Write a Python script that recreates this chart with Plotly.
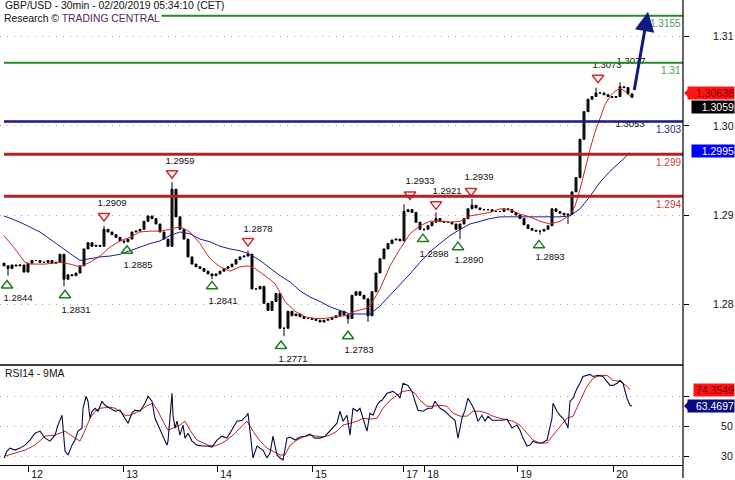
import plotly.graph_objects as go

# ---------------- data (x = quarter-hour slots from chart start) ----------------
bar_x = list(range(4, 636, 4))
closes = [
    1.2843, 1.2840, 1.2844, 1.2843, 1.2844, 1.2836, 1.2846, 1.2849, 1.2849, 1.2847,
    1.2847, 1.2849, 1.2846, 1.2847, 1.2856, 1.2828, 1.2833, 1.2832, 1.2835, 1.2843,
    1.2862, 1.2869, 1.2865, 1.2866, 1.2865, 1.2884, 1.2881, 1.2878, 1.2875, 1.2871,
    1.2870, 1.2873, 1.2881, 1.2882, 1.2884, 1.2893, 1.2899, 1.2896, 1.2890, 1.2881,
    1.2873, 1.2865, 1.2929, 1.2898, 1.2884, 1.2873, 1.2853, 1.2845, 1.2842, 1.2840,
    1.2837, 1.2834, 1.2832, 1.2834, 1.2837, 1.2840, 1.2842, 1.2845, 1.2850, 1.2853,
    1.2854, 1.2856, 1.2817, 1.2817, 1.2820, 1.2801, 1.2793, 1.2803, 1.2812, 1.2773,
    1.2773, 1.2792, 1.2787, 1.2789, 1.2786, 1.2784, 1.2784, 1.2783, 1.2782, 1.2780,
    1.2782, 1.2783, 1.2785, 1.2787, 1.2792, 1.2788, 1.2784, 1.2810, 1.2814, 1.2810,
    1.2806, 1.2787, 1.2814, 1.2835, 1.2851, 1.2862, 1.2868, 1.2872, 1.2873, 1.2871,
    1.2904, 1.2906, 1.2903, 1.2892, 1.2884, 1.2884, 1.2888, 1.2892, 1.2896, 1.2893,
    1.2892, 1.2892, 1.2890, 1.2884, 1.2890, 1.2896, 1.2907, 1.2911, 1.2908, 1.2906,
    1.2906, 1.2906, 1.2904, 1.2904, 1.2904, 1.2907, 1.2906, 1.2903, 1.2900, 1.2896,
    1.2889, 1.2885, 1.2883, 1.2882, 1.2882, 1.2884, 1.2888, 1.2907, 1.2904, 1.2902,
    1.2900, 1.2901, 1.2926, 1.2942, 1.2985, 1.3016, 1.3030, 1.3033, 1.3037, 1.3037,
    1.3035, 1.3033, 1.3032, 1.3033, 1.3044, 1.3043, 1.3036, 1.3032,
]
first_open = 1.2846
spike_x = [104, 172, 248, 404, 436, 472, 596, 620]
spike_hi = [1.2888, 1.2937, 1.2860, 1.2912, 1.2903, 1.2918, 1.3043, 1.3049]
dip_x = [8, 64, 124, 212, 284, 348, 368, 424, 460, 540, 568]
dip_lo = [1.2832, 1.2820, 1.2868, 1.2828, 1.2764, 1.2778, 1.2780, 1.2882, 1.2873, 1.2878, 1.2890]

ma_fast_x = [4, 15, 25, 30, 45, 60, 70, 80, 90, 100,
             110, 120, 130, 140, 150, 160, 170, 180, 190, 200,
             210, 220, 230, 240, 248, 255, 265, 275, 285, 295,
             305, 315, 325, 335, 345, 355, 365, 370, 380, 390,
             400, 410, 420, 430, 440, 450, 460, 470, 480, 490,
             500, 510, 520, 530, 540, 550, 560, 570, 575, 580,
             585, 590, 595, 600, 605, 610, 615, 620, 625, 630]
ma_fast = [1.2877, 1.2862, 1.2847, 1.2845, 1.2845, 1.2847, 1.2845, 1.2842, 1.2847, 1.2854,
           1.2864, 1.2871, 1.2875, 1.2881, 1.2882, 1.2882, 1.2884, 1.2887, 1.2881, 1.2868,
           1.2851, 1.2842, 1.2837, 1.2842, 1.2843, 1.2840, 1.2832, 1.2823, 1.2803, 1.2792,
           1.2786, 1.2784, 1.2784, 1.2786, 1.2787, 1.2792, 1.2795, 1.2798, 1.2817, 1.2843,
           1.2862, 1.2879, 1.2888, 1.2893, 1.2893, 1.2892, 1.2893, 1.2899, 1.2901, 1.2903,
           1.2907, 1.2906, 1.2901, 1.2898, 1.2893, 1.2890, 1.2893, 1.2900, 1.2910, 1.2929,
           1.2951, 1.2974, 1.2993, 1.3009, 1.3024, 1.3033, 1.3039, 1.3042, 1.3039, 1.3033]

ma_slow_x = [4, 20, 40, 60, 70, 80, 90, 100, 110, 120,
             130, 140, 150, 160, 170, 180, 190, 200, 210, 220,
             230, 240, 250, 260, 270, 280, 290, 300, 310, 320,
             330, 340, 350, 360, 370, 380, 390, 400, 410, 420,
             430, 440, 450, 460, 470, 480, 490, 500, 510, 520,
             530, 540, 550, 560, 570, 580, 590, 600, 610, 620, 630]
ma_slow = [1.2899, 1.2892, 1.2881, 1.2865, 1.2856, 1.2849, 1.2851, 1.2853, 1.2854, 1.2856,
           1.2860, 1.2864, 1.2868, 1.2871, 1.2877, 1.2881, 1.2879, 1.2873, 1.2870, 1.2865,
           1.2862, 1.2860, 1.2856, 1.2849, 1.2840, 1.2832, 1.2825, 1.2815, 1.2808, 1.2803,
           1.2797, 1.2793, 1.2789, 1.2789, 1.2789, 1.2798, 1.2810, 1.2821, 1.2834, 1.2847,
           1.2859, 1.2868, 1.2877, 1.2884, 1.2890, 1.2893, 1.2896, 1.2898, 1.2898, 1.2898,
           1.2898, 1.2898, 1.2898, 1.2898, 1.2899, 1.2907, 1.2921, 1.2937, 1.2949, 1.2959, 1.2970]

rsi_x = [4, 7, 10, 15, 20, 25, 30, 35, 40, 45,
         50, 55, 58, 62, 65, 68, 72, 75, 78, 82,
         83, 86, 88, 90, 92, 95, 98, 102, 105, 110,
         115, 120, 123, 128, 132, 135, 140, 145, 148, 152,
         155, 158, 163, 167, 168, 171, 172, 173, 175, 177,
         180, 183, 185, 188, 192, 197, 202, 207, 212, 217,
         222, 227, 232, 237, 242, 247, 248, 251, 253, 257,
         260, 263, 267, 270, 273, 277, 280, 283, 287, 290,
         295, 300, 305, 310, 315, 320, 325, 330, 333, 337,
         340, 343, 347, 350, 353, 357, 360, 363, 367, 370,
         373, 377, 380, 382, 387, 393, 398, 400, 403, 408,
         412, 415, 418, 423, 428, 432, 435, 440, 445, 450,
         455, 458, 462, 465, 468, 472, 475, 478, 482, 485,
         488, 492, 497, 502, 507, 512, 517, 520, 523, 527,
         530, 533, 537, 542, 547, 550, 552, 553, 557, 560,
         563, 567, 568, 570, 573, 577, 580, 583, 587, 590,
         593, 598, 603, 607, 610, 613, 617, 620, 623, 627,
         630, 632]
rsi = [28.7, 33.3, 35.3, 34.0, 35.3, 37.3, 40.7, 45.3, 46.7, 42.0,
       40.0, 44.0, 50.7, 57.3, 33.3, 30.7, 37.3, 40.7, 46.7, 48.7,
       62.0, 70.0, 66.7, 55.3, 60.0, 62.0, 60.0, 66.7, 64.0, 62.0,
       60.0, 60.7, 57.3, 52.0, 58.7, 60.7, 60.0, 65.3, 70.0, 66.7,
       55.3, 50.7, 44.0, 37.3, 40.0, 62.0, 72.0, 57.3, 48.7, 53.3,
       44.0, 50.7, 42.0, 45.3, 40.0, 37.3, 36.7, 36.7, 36.0, 40.7,
       43.3, 42.0, 47.3, 53.3, 54.0, 57.3, 58.7, 40.0, 28.7, 36.7,
       35.3, 34.0, 28.7, 32.0, 43.3, 30.7, 28.7, 27.3, 42.0, 42.7,
       40.7, 42.7, 43.3, 44.7, 42.0, 42.0, 43.3, 46.7, 48.7, 52.0,
       60.0, 53.3, 57.3, 44.0, 62.0, 60.0, 62.0, 55.3, 46.7, 58.7,
       57.3, 64.0, 66.7, 67.3, 72.0, 73.3, 70.7, 68.7, 78.7, 77.3,
       73.3, 66.7, 60.7, 60.0, 62.0, 62.0, 66.7, 62.0, 60.0, 56.7,
       54.0, 42.0, 55.3, 60.7, 68.7, 64.0, 60.0, 53.3, 57.3, 53.3,
       56.7, 54.0, 54.0, 54.0, 54.7, 48.7, 50.7, 47.3, 42.0, 36.7,
       37.3, 40.0, 38.7, 38.7, 40.7, 48.7, 55.3, 65.3, 60.0, 57.3,
       55.3, 50.7, 48.7, 66.7, 68.7, 75.3, 78.7, 83.3, 84.0, 84.7,
       83.3, 84.0, 83.3, 80.0, 77.3, 77.3, 78.7, 80.7, 78.7, 68.7,
       64.0, 63.47]

rsi_ma_x = [5, 15, 25, 35, 45, 55, 65, 75, 80, 85,
            90, 95, 100, 110, 115, 120, 125, 130, 135, 140,
            148, 153, 158, 163, 168, 173, 180, 185, 190, 197,
            203, 208, 215, 222, 227, 233, 240, 247, 253, 260,
            267, 273, 280, 285, 290, 297, 303, 310, 317, 323,
            330, 337, 343, 350, 357, 363, 370, 377, 383, 390,
            397, 403, 410, 415, 420, 427, 433, 440, 447, 453,
            460, 467, 473, 480, 487, 493, 500, 507, 513, 520,
            527, 533, 540, 547, 553, 560, 567, 573, 580, 587,
            593, 600, 607, 613, 620, 627, 630]
rsi_ma = [30.0, 32.0, 34.0, 37.3, 43.3, 44.0, 46.7, 42.0, 40.0, 47.3,
          55.3, 60.0, 62.0, 62.7, 62.0, 60.0, 57.3, 57.3, 58.7, 60.7,
          64.0, 65.3, 60.0, 53.3, 47.3, 48.7, 50.7, 53.3, 47.3, 40.7,
          38.7, 37.3, 36.7, 38.7, 40.7, 44.0, 48.7, 53.3, 46.7, 40.0,
          35.3, 33.3, 30.7, 30.7, 37.3, 40.7, 42.7, 44.0, 43.3, 42.7,
          44.0, 46.7, 50.7, 52.0, 53.3, 55.3, 54.7, 55.3, 62.0, 67.3,
          70.7, 73.3, 74.0, 72.0, 67.3, 63.3, 63.3, 64.0, 63.3, 58.7,
          56.7, 56.7, 60.0, 60.0, 58.7, 56.7, 55.3, 54.0, 53.3, 50.7,
          45.3, 40.7, 38.7, 38.7, 44.0, 50.0, 55.3, 56.7, 66.7, 76.7,
          82.0, 84.0, 84.0, 80.7, 80.0, 76.7, 74.35]

# pivot markers
peak_x = [104, 172, 248, 410, 436, 471, 598]
peak_y = [1.2899, 1.2947, 1.2871, 1.2923, 1.2912, 1.2927, 1.3054]
peak_label_x = [112, 180, 258, 420, 447, 479, 607, 631]
peak_label_y = [1.2913, 1.2960, 1.2884, 1.2937, 1.2926, 1.2942, 1.3068, 1.3072]
peak_text = ["1.2909", "1.2959", "1.2878", "1.2933", "1.2921", "1.2939", "1.3073", "1.3077"]

trough_x = [7, 65, 127, 212, 281, 348, 423, 458, 539]
trough_y = [1.2821, 1.2810, 1.2860, 1.2820, 1.2753, 1.2764, 1.2873, 1.2864, 1.2866]
trough_label_x = [18, 76, 138, 223, 293, 359, 434, 469, 550, 630]
trough_label_y = [1.2806, 1.2793, 1.2843, 1.2803, 1.2738, 1.2748, 1.2856, 1.2849, 1.2852, 1.3002]
trough_text = ["1.2844", "1.2831", "1.2885", "1.2841", "1.2771", "1.2783", "1.2898", "1.2890", "1.2893", "1.3053"]

# key levels
level_y = [1.31235, 1.30709, 1.30050, 1.29682, 1.29212]
level_text = ["1.3155", "1.31", "1.303", "1.299", "1.294"]
level_line_color = ["#2a8a2a", "#2a8a2a", "#1a1a80", "#b22222", "#b22222"]
level_line_width = [2, 2, 2.5, 3, 3]
level_text_color = ["#4a9f4a", "#4a9f4a", "#2a2a8a", "#cc3b3b", "#cc3b3b"]

# forecast arrow (from, to)
arrow_x = [634, 648]
arrow_y = [1.30386, 1.31280]

# right-edge value boxes
price_box_y = [1.3037, 1.3021, 1.2972]
price_box_text = ["1.30638", "1.3059", "1.2995"]
rsi_box_vals = [74.3549, 63.4697]

day_tick_x = [28, 123, 217, 312, 403, 424, 517, 613]
day_labels = ["12", "13", "14", "15", "17", "18", "19", "20"]
price_ticks = [1.28, 1.29, 1.30, 1.31]
rsi_ticks = [30, 50, 70]

# ---------------- build ----------------
opens = [first_open] + closes[:-1]
highs = [max(o, c) for o, c in zip(opens, closes)]
lows = [min(o, c) for o, c in zip(opens, closes)]
for xx, h in zip(spike_x, spike_hi):
    i = bar_x.index(xx)
    highs[i] = max(highs[i], h)
for xx, l in zip(dip_x, dip_lo):
    i = bar_x.index(xx)
    lows[i] = min(lows[i], l)

FONT = "Liberation Sans, Arial, sans-serif"
W_PLOT = 683.0
H_PLOT = 467.0
main_bottom = 1 - 366 / H_PLOT
rsi_top = 1 - 367 / H_PLOT

fig = go.Figure()

fig.add_trace(go.Scatter(x=ma_slow_x, y=ma_slow, mode="lines",
                         line=dict(color="#1c1c8c", width=1), hoverinfo="skip",
                         xaxis="x", yaxis="y"))
fig.add_trace(go.Scatter(x=ma_fast_x, y=ma_fast, mode="lines",
                         line=dict(color="#c82828", width=1), hoverinfo="skip",
                         xaxis="x", yaxis="y"))
fig.add_trace(go.Candlestick(
    x=bar_x, open=opens, high=highs, low=lows, close=closes,
    increasing=dict(line=dict(color="black", width=1), fillcolor="#222222"),
    decreasing=dict(line=dict(color="black", width=1), fillcolor="black"),
    whiskerwidth=0, hoverinfo="skip", xaxis="x", yaxis="y"))

fig.add_trace(go.Scatter(x=peak_x, y=peak_y, mode="markers",
                         marker=dict(symbol="triangle-down-open", size=10,
                                     color="#d42a2a", line=dict(width=1.5, color="#d42a2a")),
                         hoverinfo="skip", xaxis="x", yaxis="y"))
fig.add_trace(go.Scatter(x=trough_x, y=trough_y, mode="markers",
                         marker=dict(symbol="triangle-up-open", size=10,
                                     color="#1f7f1f", line=dict(width=1.5, color="#1f7f1f")),
                         hoverinfo="skip", xaxis="x", yaxis="y"))
fig.add_trace(go.Scatter(x=peak_label_x + trough_label_x, y=peak_label_y + trough_label_y,
                         mode="text", text=peak_text + trough_text,
                         textfont=dict(family=FONT, size=9.5, color="#111111"),
                         hoverinfo="skip", cliponaxis=True, xaxis="x", yaxis="y"))

fig.add_trace(go.Scatter(x=rsi_ma_x, y=rsi_ma, mode="lines",
                         line=dict(color="#c02424", width=1), hoverinfo="skip",
                         xaxis="x2", yaxis="y2"))
fig.add_trace(go.Scatter(x=rsi_x, y=rsi, mode="lines",
                         line=dict(color="#0a0a40", width=1.1), hoverinfo="skip",
                         xaxis="x2", yaxis="y2"))

shapes = []
for ly, lc, lw in zip(level_y, level_line_color, level_line_width):
    shapes.append(dict(type="line", xref="x", yref="y", x0=4, x1=W_PLOT, y0=ly, y1=ly,
                       line=dict(color=lc, width=lw)))
# panel border lines
shapes.append(dict(type="line", xref="paper", yref="paper", x0=0, x1=1,
                   y0=1 - 366.5 / H_PLOT, y1=1 - 366.5 / H_PLOT,
                   line=dict(color="black", width=1.5)))
shapes.append(dict(type="line", xref="paper", yref="paper", x0=1, x1=1,
                   y0=-13 / H_PLOT, y1=1, line=dict(color="black", width=1.2)))
# pointers for the boxes
px = lambda p: p / W_PLOT
dy_p = 6 / 8950.0
shapes.append(dict(type="path", xref="paper", yref="y",
                   path=f"M {px(684)},{price_box_y[0]} L {px(690)},{price_box_y[0] + dy_p} "
                        f"L {px(690)},{price_box_y[0] - dy_p} Z",
                   fillcolor="#ff1414", line=dict(width=0)))
shapes.append(dict(type="path", xref="paper", yref="y2",
                   path=f"M {px(684)},{rsi_box_vals[1]} L {px(690)},{rsi_box_vals[1] + 4.2} "
                        f"L {px(690)},{rsi_box_vals[1] - 4.2} Z",
                   fillcolor="#0a0a80", line=dict(width=0)))

ann = []
for ly, lt, tc in zip(level_y, level_text, level_text_color):
    ann.append(dict(xref="paper", yref="y", x=1, y=ly, xanchor="right", yanchor="middle",
                    yshift=-8, text=lt, showarrow=False,
                    font=dict(family=FONT, size=10, color=tc)))
# forecast arrow
ann.append(dict(xref="x", yref="y", axref="x", ayref="y",
                x=arrow_x[1], y=arrow_y[1], ax=arrow_x[0], ay=arrow_y[0],
                text="", showarrow=True, arrowhead=2, arrowsize=1.3, arrowwidth=3,
                arrowcolor="#0d1a7f", standoff=0))
# value boxes (price)
box_styles = [("#ff1414", "#7a0000", 46), ("#000000", "#ffffff", 42), ("#0000ff", "#ffffff", 42)]
for by, bt, (bg, fc, w) in zip(price_box_y, price_box_text, box_styles):
    ann.append(dict(xref="paper", yref="y", x=735 / W_PLOT, y=by, xanchor="right", yanchor="middle",
                    text=bt, showarrow=False, bgcolor=bg, width=w, align="right", borderpad=0,
                    font=dict(family=FONT, size=10.5, color=fc)))
rsi_styles = [("#ff1414", "#7a0000", 40), ("#0a0a80", "#ffffff", 46)]
for bv, (bg, fc, w) in zip(rsi_box_vals, rsi_styles):
    ann.append(dict(xref="paper", yref="y2", x=735 / W_PLOT, y=bv, xanchor="right", yanchor="middle",
                    text=f"{bv:.4f}", showarrow=False, bgcolor=bg, width=w, align="right", borderpad=0,
                    font=dict(family=FONT, size=10.5, color=fc)))
# titles
ann.append(dict(xref="paper", yref="paper", x=3 / W_PLOT, y=1 - 6 / H_PLOT, xanchor="left",
                yanchor="middle", text="GBP/USD - 30min - 02/20/2019 05:34:10 (CET)",
                showarrow=False, font=dict(family=FONT, size=10.4, color="#111111")))
ann.append(dict(xref="paper", yref="paper", x=2 / W_PLOT, y=1 - 19 / H_PLOT, xanchor="left",
                yanchor="middle",
                text="Research © <span style='color:#52265f'>TRADING CENTRAL</span>",
                showarrow=False, bgcolor="white", borderpad=1,
                font=dict(family=FONT, size=10.4, color="#111111")))
ann.append(dict(xref="paper", yref="paper", x=3 / W_PLOT, y=1 - 375 / H_PLOT, xanchor="left",
                yanchor="middle", text="RSI14 - 9MA", showarrow=False,
                font=dict(family=FONT, size=10.4, color="#111111")))

grid_dash = "1px,6px"
fig.update_layout(
    width=735, height=480,
    margin=dict(l=0, r=52, t=0, b=13),
    paper_bgcolor="white", plot_bgcolor="white",
    showlegend=False,
    font=dict(family=FONT, color="#111111"),
    xaxis=dict(domain=[0, 1], anchor="y", range=[0, W_PLOT], showticklabels=False,
               ticks="", showgrid=False, zeroline=False, showline=False,
               rangeslider=dict(visible=False), fixedrange=True),
    yaxis=dict(domain=[main_bottom, 1], anchor="x", side="right",
               range=[1.27324, 1.31413], tickvals=price_ticks,
               ticktext=[f"{v:.2f}" for v in price_ticks],
               ticks="outside", ticklen=5, tickcolor="black", ticklabelstandoff=22,
               showgrid=True, gridcolor="#aaaaaa", gridwidth=1, griddash=grid_dash,
               zeroline=False, showline=False, tickfont=dict(family=FONT, size=10.5, color="#111111"),
               fixedrange=True),
    xaxis2=dict(domain=[0, 1], anchor="y2", range=[0, W_PLOT], tickvals=day_tick_x,
                ticktext=day_labels, ticks="outside", ticklen=6, tickcolor="black",
                ticklabelshift=9, ticklabelstandoff=-7, showgrid=False, zeroline=False,
                showline=True, linecolor="black", linewidth=1.2,
                tickfont=dict(family=FONT, size=10.5, color="#111111"), fixedrange=True),
    yaxis2=dict(domain=[0, rsi_top], anchor="x2", side="right", range=[24, 90.67],
                tickvals=rsi_ticks, ticktext=["30", "50", ""],
                ticks="outside", ticklen=5, tickcolor="black", ticklabelstandoff=30,
                showgrid=True, gridcolor="#aaaaaa", gridwidth=1, griddash=grid_dash,
                zeroline=False, showline=False,
                tickfont=dict(family=FONT, size=10.5, color="#111111"), fixedrange=True),
    shapes=shapes,
    annotations=ann,
)

fig.write_html("out.html", config={"displayModeBar": False, "staticPlot": True},
               post_script="document.body.style.margin='0';document.body.style.overflow='hidden';")
